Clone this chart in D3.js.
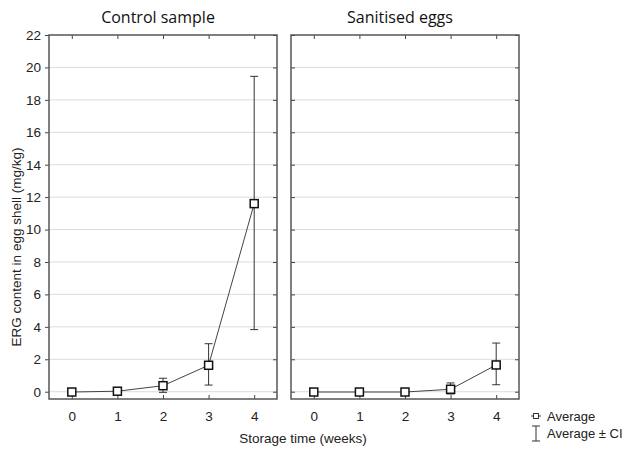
<!DOCTYPE html>
<html>
<head>
<meta charset="utf-8">
<script src="https://cdn.jsdelivr.net/npm/d3@7"></script>
<style>
  body { margin: 0; background: #fff; }
  .tick text { font-family: "Liberation Sans", Arial, sans-serif; font-size: 13.5px; fill: #222; }
</style>
</head>
<body>
<div id="chart"></div>
<script>
// storage weeks
var weeks = [0, 1, 2, 3, 4];
var yTicks = [0, 2, 4, 6, 8, 10, 12, 14, 16, 18, 20, 22];
var panelTitles = ['Control sample', 'Sanitised eggs'];

// control sample: mean and CI bounds
var controlMean = [-0.02, 0.03, 0.37, 1.63, 11.6];
var controlLow = [-0.02, 0.03, -0.04, 0.41, 3.83];
var controlHigh = [-0.02, 0.03, 0.83, 2.96, 19.45];

// sanitised eggs
var sanitMean = [-0.02, -0.02, -0.02, 0.15, 1.65];
var sanitLow = [-0.02, -0.02, -0.02, -0.14, 0.43];
var sanitHigh = [-0.02, -0.02, -0.02, 0.54, 3.0];

var w = 624, h = 450;
var panelW = 228;
var plotTop = 35, plotBottom = 399;
var panelLeft = [49, 291];
var font = '"Liberation Sans", Arial, sans-serif';

var svg = d3.select('#chart').append('svg')
  .attr('width', w)
  .attr('height', h);

var y = d3.scaleLinear().domain([-0.45, 22]).range([plotBottom, plotTop]);

var panels = [
  { title: panelTitles[0], mean: controlMean, low: controlLow, high: controlHigh },
  { title: panelTitles[1], mean: sanitMean, low: sanitLow, high: sanitHigh }
];

function darkTicks(s) {
  s.select('.domain').remove();
  s.selectAll('line').attr('stroke', '#444');
}

panels.forEach(function (p, k) {
  var x0 = panelLeft[k];
  var x = d3.scaleLinear().domain([-0.5, 4.5]).range([x0, x0 + panelW]);
  var g = svg.append('g');

  // gridlines
  g.selectAll('line.grid').data(yTicks.slice(0, -1)).enter().append('line')
    .attr('x1', x0).attr('x2', x0 + panelW)
    .attr('y1', function (d) { return y(d); })
    .attr('y2', function (d) { return y(d); })
    .attr('stroke', '#dcdcdc').attr('stroke-width', 1);

  // bottom axis labels
  var xAxis = d3.axisBottom(x).tickValues(weeks).tickSize(0).tickPadding(12).tickFormat(d3.format('d'));
  g.append('g').attr('transform', 'translate(0,' + plotBottom + ')').call(xAxis)
    .call(function (s) { s.select('.domain').remove(); });
  // inward ticks top/bottom
  var xt = d3.axisTop(x).tickValues(weeks).tickSize(-4).tickFormat('');
  g.append('g').attr('transform', 'translate(0,' + plotTop + ')').call(xt).call(darkTicks);
  var xb = d3.axisBottom(x).tickValues(weeks).tickSize(-4).tickFormat('');
  g.append('g').attr('transform', 'translate(0,' + plotBottom + ')').call(xb).call(darkTicks);

  // y axes
  if (k === 0) {
    var yAxis = d3.axisLeft(y).tickValues(yTicks).tickSize(4).tickPadding(4);
    g.append('g').attr('transform', 'translate(' + x0 + ',0)').call(yAxis).call(darkTicks);
  } else {
    var yl = d3.axisLeft(y).tickValues(yTicks).tickSize(-4).tickFormat('');
    g.append('g').attr('transform', 'translate(' + x0 + ',0)').call(yl).call(darkTicks);
  }
  var yr = d3.axisRight(y).tickValues(yTicks).tickSize(-4).tickFormat('');
  g.append('g').attr('transform', 'translate(' + (x0 + panelW) + ',0)').call(yr).call(darkTicks);

  // frame
  g.append('rect')
    .attr('x', x0).attr('y', plotTop)
    .attr('width', panelW).attr('height', plotBottom - plotTop)
    .attr('fill', 'none').attr('stroke', '#555').attr('stroke-width', 1.5);

  // title
  svg.append('text')
    .attr('x', x0 + panelW / 2 - 5).attr('y', 23)
    .attr('text-anchor', 'middle')
    .attr('font-family', '"Open Sans", Lato, sans-serif')
    .attr('font-size', 16).attr('fill', '#111')
    .text(p.title);

  // error bars
  var eb = g.selectAll('g.err').data(weeks).enter().append('g');
  eb.append('line')
    .attr('x1', function (d) { return x(d); }).attr('x2', function (d) { return x(d); })
    .attr('y1', function (d, i) { return y(p.low[i]); })
    .attr('y2', function (d, i) { return y(p.high[i]); })
    .attr('stroke', '#333').attr('stroke-width', 1);
  [p.low, p.high].forEach(function (arr) {
    eb.append('line')
      .attr('x1', function (d) { return x(d) - 4; }).attr('x2', function (d) { return x(d) + 4; })
      .attr('y1', function (d, i) { return y(arr[i]); })
      .attr('y2', function (d, i) { return y(arr[i]); })
      .attr('stroke', '#333').attr('stroke-width', 1);
  });

  // mean line
  var line = d3.line()
    .x(function (d) { return x(d); })
    .y(function (d, i) { return y(p.mean[i]); });
  g.append('path').datum(weeks)
    .attr('d', line).attr('fill', 'none')
    .attr('stroke', '#444').attr('stroke-width', 1);

  // markers
  g.selectAll('rect.pt').data(weeks).enter().append('rect')
    .attr('x', function (d) { return x(d) - 4; })
    .attr('y', function (d, i) { return y(p.mean[i]) - 4; })
    .attr('width', 8).attr('height', 8)
    .attr('fill', '#fff').attr('stroke', '#111').attr('stroke-width', 1.5);
});

// axis titles
svg.append('text')
  .attr('transform', 'translate(21,247) rotate(-90)')
  .attr('text-anchor', 'middle')
  .attr('font-family', font)
  .attr('font-size', 13.5).attr('fill', '#222')
  .text('ERG content in egg shell (mg/kg)');

svg.append('text')
  .attr('x', 303).attr('y', 443)
  .attr('text-anchor', 'middle')
  .attr('font-family', font)
  .attr('font-size', 13.5).attr('fill', '#222')
  .text('Storage time (weeks)');

// legend
var leg = svg.append('g').attr('transform', 'translate(530,0)');
leg.append('line').attr('x1', 1).attr('x2', 11).attr('y1', 416).attr('y2', 416)
  .attr('stroke', '#333').attr('stroke-width', 1);
leg.append('rect').attr('x', 3.5).attr('y', 413.5).attr('width', 5).attr('height', 5)
  .attr('fill', '#fff').attr('stroke', '#333').attr('stroke-width', 1);
leg.append('text').attr('x', 17).attr('y', 421)
  .attr('font-family', font)
  .attr('font-size', 13).attr('fill', '#222').text('Average');

leg.append('line').attr('x1', 6).attr('x2', 6).attr('y1', 426).attr('y2', 441)
  .attr('stroke', '#333').attr('stroke-width', 1);
leg.append('line').attr('x1', 2).attr('x2', 10).attr('y1', 426).attr('y2', 426)
  .attr('stroke', '#333').attr('stroke-width', 1);
leg.append('line').attr('x1', 2).attr('x2', 10).attr('y1', 441).attr('y2', 441)
  .attr('stroke', '#333').attr('stroke-width', 1);
leg.append('text').attr('x', 17).attr('y', 438)
  .attr('font-family', font)
  .attr('font-size', 13).attr('fill', '#222').text('Average ± CI');
</script>
</body>
</html>
